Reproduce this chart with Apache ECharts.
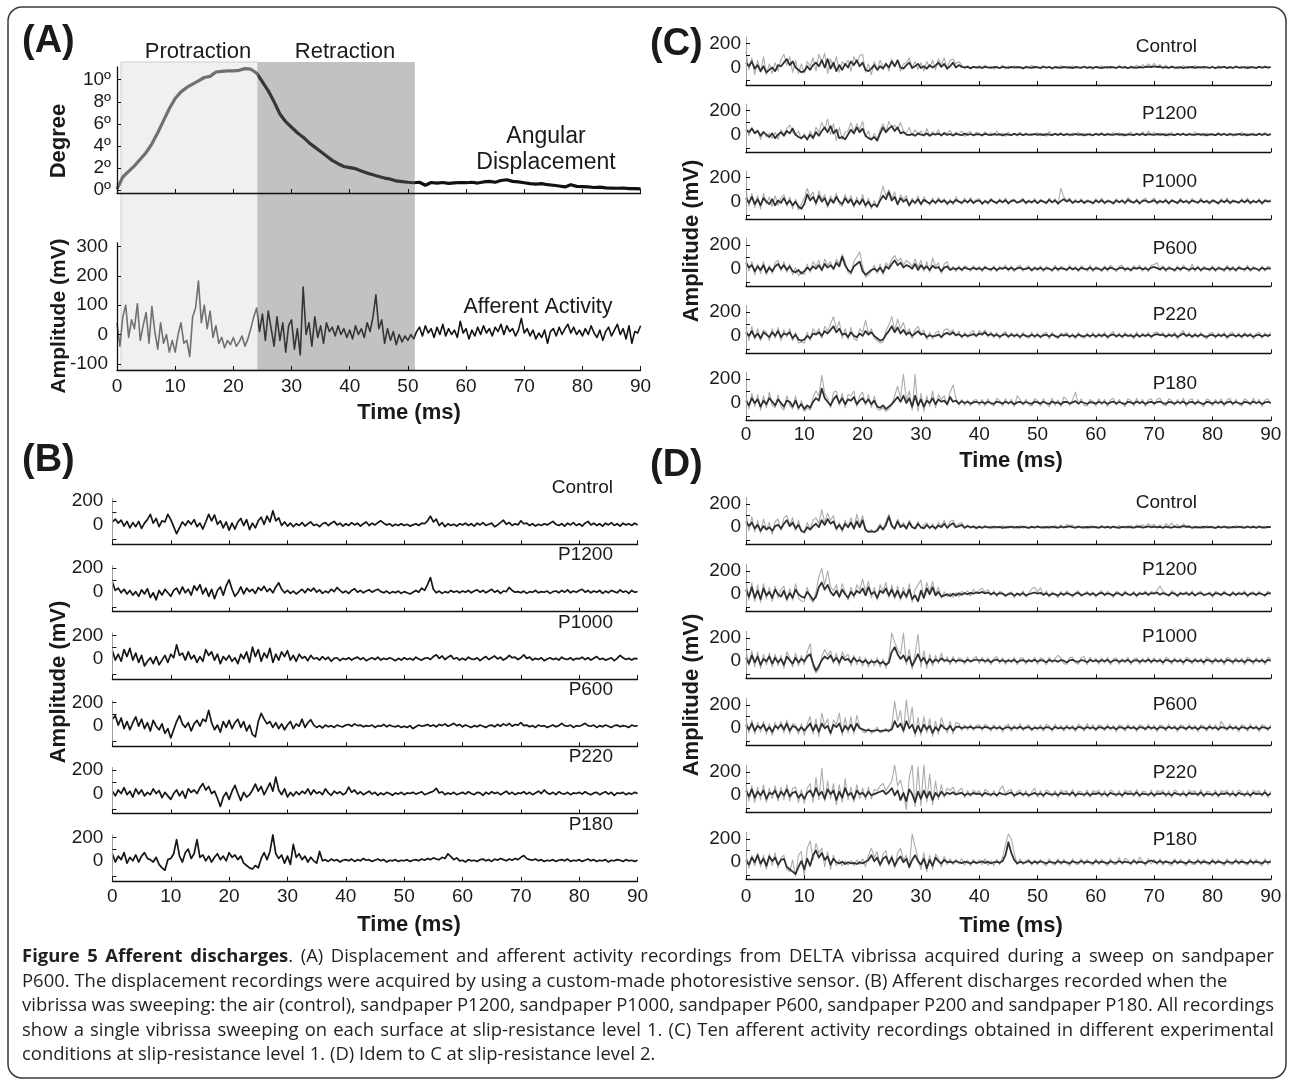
<!DOCTYPE html>
<html><head><meta charset="utf-8">
<script src="https://cdn.jsdelivr.net/npm/echarts@6/dist/echarts.min.js"></script>
<style>html,body{margin:0;padding:0;background:#fff}#c{width:1293px;height:1089px}</style>
</head><body><div id="c"></div>
<script>
// ---------------- DATA ----------------
const SAMPLE_STEP_MS = 0.5;   // amplitude samples every 0.5 ms (0..90 ms)
const DEGREE_STEP_MS = 1;     // displacement samples every 1 ms
const phaseBounds = [0.7, 24.2, 51.2]; // protraction start, retraction start, retraction end (ms)
const phaseNames = ['Protraction', 'Retraction'];
const degreeTicks = [0, 2, 4, 6, 8, 10];
const ampTicksA = [-100, 0, 100, 200, 300];
const ampTicksSmall = [0, 200];
const conditions = ['Control', 'P1200', 'P1000', 'P600', 'P220', 'P180'];

// (A) angular displacement (degrees)
const degA = [0.1,1.2,1.7,2.2,2.8,3.4,4.2,5.2,6.3,7.4,
8.3,8.9,9.3,9.6,9.9,10.2,10.3,10.7,10.75,10.8,
10.8,10.85,11.0,10.95,10.6,9.8,9.0,8.0,6.9,6.2,
5.7,5.2,4.8,4.3,3.9,3.5,3.1,2.7,2.4,2.15,
2.05,1.95,1.75,1.55,1.4,1.25,1.1,1.0,0.85,0.78,
0.72,0.68,0.72,0.45,0.7,0.65,0.7,0.62,0.66,0.7,
0.68,0.72,0.65,0.75,0.8,0.72,0.88,0.95,0.8,0.75,
0.68,0.6,0.55,0.6,0.5,0.45,0.38,0.3,0.5,0.35,
0.32,0.3,0.25,0.28,0.22,0.2,0.18,0.2,0.15,0.14,
0.12];
// (A) afferent activity (mV)
const ampA = [40,-40,60,100,-10,50,20,105,-20,30,75,-30,95,10,-50,40,-30,0,-60,-20,
-60,0,40,-30,-20,-75,60,90,182,40,100,20,80,-10,30,-30,-10,-45,-20,-35,
-10,-40,-25,-5,-40,-15,20,60,90,10,70,-20,80,20,-40,60,-20,40,-60,30,
50,-50,20,-70,162,0,40,-40,60,-10,30,-30,40,10,25,-5,30,0,20,-10,
15,-15,30,0,20,-10,40,10,60,135,20,50,-30,20,-20,10,-35,0,-25,-5,
-20,0,-15,10,25,-5,30,5,20,-10,25,0,35,-5,20,0,15,-10,45,5,
20,-15,15,-5,25,0,30,5,20,-5,25,10,35,0,30,10,20,-5,15,55,
5,20,-5,15,-15,5,-10,15,-30,10,20,-5,25,0,20,35,5,25,0,15,
-5,20,0,30,5,-10,15,-20,10,25,-5,15,35,0,20,-15,30,-30,10,5,30];

// (B) single recordings (mV)
const bControl = [20,45,10,35,-15,25,-30,15,-20,25,-35,10,40,85,10,50,-20,30,20,85,
40,-20,-80,-30,20,-10,30,0,40,-20,10,-40,20,85,30,80,0,30,-30,20,
-50,10,-40,20,50,-10,40,-45,10,-30,30,60,0,70,20,115,30,55,-10,20,
-15,10,-20,5,-10,15,-15,5,20,-10,0,-20,5,15,-10,10,25,-5,10,-15,
5,-10,15,-5,10,-15,5,20,-10,10,-5,15,30,10,-5,5,-15,0,-10,5,
-10,0,-15,-5,5,-10,10,5,30,70,20,45,-10,15,-20,5,-10,0,-15,5,
-5,10,-10,5,-15,10,-5,15,-10,0,10,-20,-5,15,35,0,15,-10,5,-5,
30,5,10,-10,5,-15,0,-10,5,-5,10,25,0,-10,5,-15,10,-5,15,-10,
5,-15,10,25,-5,10,-10,5,-15,10,-5,15,-10,5,-15,10,-5,5,-10,10,-5];
const bP1200 = [80,10,30,-10,20,-20,10,-30,0,-40,15,-20,25,-50,-10,-70,10,-30,20,-10,
-40,10,30,-20,40,-10,20,-30,50,10,60,-20,30,-40,20,-60,10,40,-30,50,
100,20,-40,-10,40,-20,30,0,20,-15,35,10,45,0,25,-10,40,75,20,-10,
10,-15,5,-20,0,20,-10,25,5,30,-5,15,-15,5,-10,20,0,35,10,-10,
5,-15,10,25,-5,10,-10,5,15,-5,10,20,0,-10,5,-15,0,-10,5,-15,
0,-10,-20,-5,10,-5,30,10,60,120,20,-10,5,-15,0,-10,10,-5,5,-10,
5,-5,10,-10,5,15,-5,10,-10,5,20,-5,10,-15,5,0,35,10,-5,0,
-10,5,-15,0,-5,10,-10,0,-5,5,-15,0,5,-10,10,-5,15,-10,5,-5,
10,20,-5,10,-10,5,-5,10,-15,5,-10,10,0,-10,15,-5,5,-15,10,-5,0];
const bP1000 = [70,-10,40,-20,80,20,90,-10,50,-30,30,-60,-20,10,-40,20,-50,-10,30,-30,
40,10,120,30,50,-10,60,0,30,-30,20,-20,80,30,60,-10,40,-40,20,-10,
30,-20,10,-40,40,0,60,-30,100,20,80,-20,50,10,90,-30,40,-10,60,20,
70,-10,30,-20,40,5,20,-15,30,0,10,-10,20,-5,15,-20,5,10,-15,5,
-5,10,-10,5,15,-5,10,-15,0,10,-5,15,-10,5,-5,10,0,-15,5,-10,
10,-5,5,-10,15,0,-10,5,10,-5,20,35,5,25,-5,15,30,0,10,-10,
5,-10,15,0,-5,10,-15,5,20,-5,10,25,0,15,-10,5,30,10,15,-5,
10,35,5,15,-10,5,-5,10,-15,0,10,-5,5,-10,15,0,-5,10,-10,5,
0,15,-5,10,-10,5,20,-5,5,-10,0,10,-15,5,30,10,-5,5,-10,5,0];
const bP600 = [60,90,10,70,-20,40,-30,30,80,0,60,-20,30,-40,50,0,-30,20,-60,-20,
-100,-30,40,90,20,-10,30,-40,20,50,0,60,40,135,30,-30,10,-50,40,-10,
50,-20,30,60,-10,40,-40,10,-70,-90,40,110,60,20,40,-10,30,-20,20,-30,
10,40,-20,20,0,60,-10,30,55,10,-10,5,-15,10,-5,5,-10,10,0,-5,
10,15,0,20,5,10,-5,5,0,10,-10,5,0,15,-5,10,0,-5,5,-10,
0,-10,5,-20,-5,10,0,5,15,0,10,-5,15,5,20,0,10,25,5,15,
-5,10,0,-10,5,-5,10,0,-10,5,10,-5,15,0,20,5,25,0,15,10,
30,5,10,-5,5,-10,10,0,5,-10,0,10,-5,5,25,5,0,10,-10,5,
0,10,25,5,0,10,-10,5,-5,10,0,-10,5,10,-5,5,0,-10,10,0,5];
const bP220 = [20,-20,30,0,50,-10,20,-30,40,-5,30,-20,10,-10,40,0,25,-35,10,-20,
-50,0,30,-20,20,-40,40,10,30,0,50,85,30,60,0,20,-40,-110,-30,10,
-50,20,70,0,-60,10,-30,-10,30,80,20,60,-10,40,90,20,140,30,-10,40,
-30,10,-20,15,-10,20,0,40,-10,30,0,15,-10,40,5,-15,20,0,15,-10,
5,55,10,30,-5,15,-10,5,20,-5,10,-15,5,-10,10,0,-15,5,-5,10,
-10,5,0,10,-5,5,15,-10,0,10,20,45,5,15,-10,5,-5,10,-10,0,
10,-5,15,0,-10,10,5,-15,10,-5,15,0,10,-10,5,20,-5,10,-10,5,
0,15,-5,10,-10,5,20,0,30,5,-5,10,-10,15,0,-5,10,-10,5,0,
10,-5,15,0,-10,5,10,-10,5,15,-5,10,-15,5,0,10,-10,5,-5,10,0];
const bP180 = [60,-10,40,10,70,-20,30,0,50,-10,40,70,20,10,-10,30,-30,-60,-80,10,
20,60,180,40,-10,70,100,20,60,180,30,50,0,40,-10,30,60,10,40,0,
70,30,50,10,40,-20,-40,-60,-70,-40,-60,20,70,10,80,220,60,20,50,-20,
40,-30,140,30,60,10,40,-10,30,0,-20,80,0,10,-5,15,0,10,-10,5,
10,0,15,-5,10,0,20,5,10,-5,5,15,0,10,-10,5,0,10,-5,5,
0,10,-5,5,10,0,15,5,20,10,25,15,10,30,20,60,35,10,25,0,
5,-10,10,0,5,-5,10,15,0,10,-5,15,5,20,10,0,15,5,20,10,
30,45,20,10,5,15,0,10,-5,5,0,10,-5,5,10,0,15,-5,5,0,
10,-5,5,15,0,10,-5,5,0,10,-10,5,0,10,5,-5,10,0,5,-5,5];

// (C) level 1: dense core (dark) and spread of the ten recordings (light), mV
const cDarkControl = [40,10,50,-10,20,-30,10,-40,-20,0,-30,20,10,40,70,20,50,0,-20,-40,
-30,10,-20,20,40,10,60,0,70,-10,40,-30,20,-20,30,0,50,20,60,10,
40,-20,-30,-10,20,-20,10,-10,30,0,50,10,60,0,-10,20,40,-5,10,30,
-5,10,-10,20,0,15,40,5,30,-10,10,40,0,20,5,0,5,-5,5,0,
3,-3,5,0,-4,4,2,-5,6,0,-3,5,-2,4,0,-5,3,1,-4,5,
0,-3,6,-2,4,-5,2,0,-4,5,-1,3,-5,4,0,-2,6,-3,2,-4,
4,0,-5,3,-2,5,0,-4,6,-1,3,-5,2,0,-3,5,-2,4,8,2,
10,4,6,-2,3,-4,5,0,-3,4,-5,2,0,5,-4,3,-2,6,0,-3,
4,-5,2,0,5,-3,3,-4,6,0,-2,4,-5,3,0,-3,5,-2,4,0,3];
const cLightControl = [130,-20,80,-60,60,-40,90,-60,30,-50,40,-30,70,110,20,90,-40,60,-50,30,
-50,50,10,80,-30,110,40,120,-50,70,0,90,-40,50,20,60,-30,90,40,100,
110,-40,30,-60,50,-20,60,0,40,-30,70,10,60,-30,30,40,80,0,50,-20,
40,-30,50,0,60,-20,70,20,80,-10,60,70,30,50,20,-10,15,-15,10,-10,
15,-10,20,-5,10,-15,12,-8,18,-12,10,-5,15,-10,8,-15,12,-5,20,-8,
10,-12,15,-5,8,-15,12,-10,18,-5,10,-12,15,-8,5,-10,12,-5,10,-15,
8,-10,15,-5,12,-12,10,-8,18,-5,12,-10,15,-5,20,-8,25,5,30,10,
35,5,25,-10,20,-5,15,-12,10,-8,18,-5,12,-10,15,-5,10,-12,8,-5,
12,-10,15,-5,10,-12,8,-8,15,-5,10,-10,12,-5,8,-12,10,-5,15,-8,5];
const cDarkP1200 = [40,20,50,10,30,-10,20,0,-20,10,-30,0,20,-10,30,10,50,0,-20,-30,
-10,-40,0,-30,20,-10,30,60,20,70,10,40,-30,-20,-40,0,40,10,60,20,
50,-10,-30,-40,-20,-50,10,60,20,50,70,30,60,10,20,0,-5,5,-10,10,
0,-5,10,-10,5,0,8,-5,10,-3,5,-8,6,0,-5,8,-3,5,-6,4,
2,-5,6,0,-4,5,-2,4,-6,3,0,-4,6,-2,5,-5,3,0,-3,5,
-2,4,-5,3,0,-4,6,-2,5,-5,3,0,-3,5,-2,4,-6,3,0,-4,
6,-2,5,-5,3,0,-3,5,-2,4,-6,3,0,-4,6,-2,5,-5,3,0,
-3,5,-2,4,-6,3,0,-4,6,-2,5,-5,3,0,-3,5,-2,4,-6,3,
0,-4,6,-2,5,-5,3,0,-3,5,-2,4,-6,3,0,-4,6,-2,5,-5,3];
const cLightP1200 = [70,-10,60,20,40,-40,30,-20,10,-30,20,-40,40,0,50,80,20,-10,30,-40,
10,-50,30,-20,60,20,100,40,130,0,90,-50,60,-40,20,30,100,20,90,40,
110,-20,30,-50,10,-40,40,90,20,110,60,80,40,100,30,10,60,-10,40,0,
30,-15,50,-10,25,0,40,-15,20,10,35,-10,20,5,30,-15,15,25,-10,20,
10,-15,25,-5,15,-10,30,-8,12,-15,20,-5,10,-12,22,-8,15,-10,12,-5,
18,-10,10,-15,25,-5,12,-10,18,-8,10,-12,15,-5,20,-10,12,-8,15,-12,
10,-5,18,-10,12,-8,20,-5,15,-12,10,-8,22,-5,12,-10,25,-5,30,0,
20,-10,15,-5,12,-12,18,-8,10,-5,15,-10,12,-8,20,-5,10,-12,15,-8,
12,-5,18,-10,10,-8,15,-12,12,-5,20,-10,10,-8,15,-5,12,-10,18,-5,10];
const cDarkP1000 = [30,-10,40,-20,20,-30,30,0,-20,20,-30,10,-10,30,-20,10,-30,0,-40,-60,
-20,60,10,40,-10,50,0,30,-30,20,-10,40,0,-20,30,-10,20,-30,10,-20,
20,-30,0,-40,-20,-40,10,50,20,80,10,40,-20,30,0,20,-30,10,-10,20,
-20,15,0,-15,10,-10,15,-5,10,-15,5,-10,15,0,-10,10,-5,15,-10,5,
10,-15,5,-10,15,0,-10,10,-5,12,-12,5,10,-8,0,15,-10,5,-5,10,
-12,8,0,-10,15,-5,10,-15,5,20,0,15,-10,5,-5,10,-10,5,0,-12,
10,-5,12,-10,5,0,-12,10,-5,8,-10,15,0,-8,10,-12,5,10,-5,0,
12,-10,5,-5,10,-12,8,0,-10,12,-5,5,-10,10,0,-8,12,-5,5,-10,
8,0,-12,10,-5,12,-10,5,0,-8,10,-5,12,-10,5,-5,10,-12,8,0,5];
const cLightP1000 = [90,-40,70,-50,50,-60,70,-20,40,-40,50,-30,30,60,-40,40,-60,20,-70,-20,
30,110,40,80,-30,90,20,60,-50,50,0,70,-20,-40,60,0,50,-50,40,-30,
60,-50,30,-60,10,-50,40,130,50,100,30,80,-30,60,20,50,-40,30,-20,50,
-30,40,10,-30,30,-20,35,0,25,-30,20,-25,40,5,-20,30,-15,35,-20,20,
25,-25,15,-20,30,0,-20,25,-10,30,-25,15,20,-15,10,30,-20,15,-15,25,
-20,20,5,-20,30,-10,25,-25,110,40,10,30,-15,20,-10,25,-20,15,5,-20,
25,-10,30,-20,15,5,-25,25,-10,20,-20,35,10,-15,25,-25,15,30,-10,10,
30,-20,15,-10,25,-25,20,5,-20,30,-10,15,-20,25,5,-15,30,-10,15,-20,
20,5,-25,25,-10,30,-20,15,5,-15,25,-10,30,-20,15,-10,25,-25,20,5,15];
const cDarkP600 = [50,10,30,-20,20,-10,30,-30,10,-20,20,40,0,30,-10,20,-20,-30,-10,-40,
-20,10,-10,20,0,30,-10,40,10,30,0,50,20,100,30,-10,-30,20,40,60,
-20,-50,-30,-10,0,-20,10,-30,20,0,40,70,30,50,10,30,20,0,40,-10,
30,0,20,-10,25,5,15,-20,10,20,-10,5,-5,8,-8,10,0,-5,8,-3,
5,-8,10,0,-5,8,-10,5,0,10,-5,8,-8,3,10,-5,0,8,-10,5,
-3,8,-8,5,0,-10,10,-5,5,0,-8,10,-3,5,-10,8,0,-5,10,-8,
5,0,-10,8,-5,10,0,-8,5,10,-5,3,-10,8,0,10,-5,5,-8,10,
15,5,-5,10,-8,5,0,-10,8,-5,10,0,-8,5,-5,10,-10,5,0,-5,
8,-10,5,0,-8,10,-5,5,-10,8,0,-5,10,-8,5,0,-10,8,-5,5,0];
const cLightP600 = [90,-20,60,-50,40,-40,60,-50,30,-40,50,70,-20,60,-30,40,-50,10,-60,-20,
-50,40,-30,60,20,70,-20,80,30,60,-10,80,40,120,60,-30,-50,60,100,140,
20,-70,-50,-20,30,-40,40,-50,50,20,80,110,60,90,30,70,50,20,80,10,
70,-20,60,-30,90,20,50,-40,40,60,-10,20,-25,25,-20,25,10,-20,25,-15,
20,-25,25,0,-20,25,-25,20,5,30,-20,25,-25,15,30,-20,10,25,-25,20,
-15,25,-25,20,5,-25,30,-20,20,10,-20,30,-15,20,-25,25,5,-20,30,-25,
20,5,-25,25,-20,30,10,-25,20,30,-20,15,-25,25,5,30,-20,20,-25,30,
35,50,-15,25,-25,20,5,-25,25,-20,30,5,-25,40,-20,25,-25,20,5,-20,
25,-25,20,5,-25,30,-20,20,-25,25,5,-20,30,-25,20,5,-25,25,-20,20,10];
const cDarkP220 = [30,0,40,-10,20,-20,30,10,-10,30,0,40,-10,20,10,30,-20,10,-30,-40,
-30,0,-20,20,10,30,0,40,20,50,80,30,60,10,20,-10,30,0,-10,20,
0,40,10,30,0,-20,-40,-30,10,40,80,30,70,20,50,10,30,0,20,40,
10,20,-10,5,-5,0,10,-10,15,25,10,30,5,15,-5,10,0,5,15,0,
20,10,30,5,15,0,10,-5,5,15,-5,10,0,8,-8,12,0,-5,10,-3,
8,-8,5,10,-5,12,0,-10,8,3,10,-5,5,-8,12,0,-5,8,-3,10,
-5,8,0,10,-8,5,12,-3,8,-5,10,0,5,-8,12,-5,8,0,10,-5,
8,15,5,10,-5,8,0,12,-8,5,20,0,10,-5,8,-3,12,0,-8,5,
10,-5,8,0,12,-8,5,10,-3,8,-5,12,0,8,-8,5,10,-5,8,0,10];
const cLightP220 = [70,-40,80,-30,60,-40,50,30,-40,60,-20,70,-40,50,-10,60,-40,30,-60,-50,
-60,30,-40,60,20,60,-20,80,40,100,160,60,120,-20,60,-30,70,-20,-40,60,
30,130,20,60,-20,-40,-60,-50,40,90,160,40,140,60,110,20,60,-20,50,80,
20,50,-30,30,-25,25,40,-20,50,60,30,50,0,40,-20,30,-15,25,45,-10,
45,20,50,-10,35,-15,30,-25,20,35,-20,30,-15,25,-25,30,-10,-20,30,-20,
25,-20,20,30,-25,30,-10,-25,25,10,30,-20,20,-25,30,-10,-20,25,-15,30,
-20,25,-15,30,-25,20,35,-15,25,-20,30,-10,20,-25,35,-15,25,-10,30,-20,
25,35,10,30,-20,25,-10,30,-25,20,45,-10,30,-20,25,-15,30,-10,-25,20,
30,-20,25,-10,30,-25,20,30,-15,25,-20,30,-10,25,-25,20,30,-20,25,-10,30];
const cDarkP180 = [20,-20,40,0,30,-30,20,-10,40,10,-20,30,0,-30,20,10,-30,20,-40,-10,
-50,-20,-40,10,40,20,120,40,10,-20,30,60,0,40,-10,30,20,50,-10,20,
40,0,30,-10,20,-30,-40,-20,-50,-30,-10,20,50,10,60,0,40,-30,60,-20,
30,-30,20,0,40,-10,30,10,20,-10,50,10,20,-5,15,0,10,-5,5,10,
0,8,-5,10,0,-8,12,5,-5,10,0,8,-10,5,10,-5,8,0,-8,12,
5,-5,10,0,-8,12,0,5,-10,8,10,-5,5,15,-5,10,0,-8,8,3,
-5,10,0,8,-8,5,12,-5,8,0,-10,10,5,-5,12,0,8,-8,5,10,
-3,8,12,0,-8,10,5,-5,8,0,12,-8,5,10,-5,8,0,-10,10,5,
-5,8,0,10,-8,5,12,-5,8,0,-8,10,5,-5,12,0,8,-8,5,10,0];
const cLightP180 = [60,-50,80,-30,70,-60,60,-40,90,-20,-40,70,-30,-60,60,-20,-50,60,-60,20,
-70,-40,-60,50,100,60,230,80,40,-40,90,100,-20,80,-40,70,60,100,-30,60,
90,-20,70,-40,60,-50,-60,-40,-70,-50,-20,60,140,40,240,20,100,-60,240,-70,
80,-70,60,-30,100,-40,70,30,60,-20,90,150,40,-20,30,-20,25,-25,20,30,
-20,30,-25,35,-10,-25,40,20,-25,35,-15,30,-30,60,30,-20,30,-15,-25,35,
20,-25,35,-10,-30,40,-20,25,-30,50,30,-20,25,90,-15,35,-20,-25,30,15,
-25,35,-15,30,-30,25,40,-20,30,-10,-30,35,20,-25,40,-10,30,-30,25,35,
-20,30,40,-15,-25,35,20,-20,30,-10,40,-30,25,35,-20,30,-10,-30,35,20,
-25,30,-10,35,-30,25,40,-20,30,-10,-25,35,20,-20,40,-10,30,-30,25,35,-10];

// (D) level 2: dense core (dark) and spread (light), mV
const dDarkControl = [50,10,40,-10,20,-30,10,-20,0,-30,10,20,-10,30,60,10,40,-10,20,-30,
-40,0,-20,10,30,0,60,20,70,30,50,-10,20,-20,30,0,40,-10,50,0,
60,-20,-40,-35,-40,-30,10,-20,20,90,10,-10,50,0,20,-10,40,0,-10,30,
0,-10,20,-5,10,-10,15,0,30,-5,20,35,0,10,20,-5,10,0,5,-5,
3,-4,5,0,-3,6,-2,4,-5,2,0,5,-4,3,-2,6,0,-5,4,-2,
5,0,-4,3,-3,6,0,-4,5,-2,4,8,2,-3,5,0,-4,3,-2,5,
0,-4,6,-2,3,-3,5,0,-5,4,-2,6,0,-4,3,5,-3,2,8,0,
6,-2,4,-4,5,0,-3,6,-2,4,10,3,5,-4,2,0,-3,5,-2,4,
0,-5,3,-2,6,0,-4,4,-2,5,0,-3,6,-2,3,-4,5,0,-3,4,2];
const dLightControl = [120,-30,90,-40,60,-50,70,-20,40,-60,50,70,-30,80,100,20,80,-30,60,-40,
-50,40,-20,60,80,30,150,40,120,60,100,-30,40,-40,60,0,80,-20,110,20,
100,-30,-40,-20,-45,-10,30,-20,50,110,30,-20,70,10,40,-20,60,10,-15,50,
-10,20,40,-15,30,-20,40,10,60,-10,50,60,10,30,40,-10,20,-10,15,-15,
12,-10,15,-5,10,-12,8,-8,15,-10,12,-5,10,-12,15,-8,10,-5,12,-10,
15,-5,10,-12,12,-8,15,-10,20,-5,25,10,18,-10,12,-5,10,-12,15,-8,
10,-10,15,-5,12,-12,10,-8,15,-5,12,-10,15,-5,18,10,22,5,30,10,
25,0,20,-10,30,10,35,5,25,-10,30,10,15,-10,12,-5,10,-12,15,-8,
12,-10,15,-5,10,-12,8,-8,15,-5,12,-10,10,-5,15,-8,12,-10,10,-5,8];
const dDarkP1200 = [40,-20,60,-30,30,-40,50,-10,20,-30,40,0,-20,30,-40,10,-30,40,0,-20,
-30,20,-10,-50,-20,60,100,40,80,20,-10,30,-20,40,0,-30,20,-10,30,10,
50,-10,60,0,20,-30,30,10,50,-10,40,-20,30,-30,20,-20,40,-40,-10,-60,
30,-30,50,0,60,-10,20,-20,-10,0,-15,5,-10,8,-5,10,0,12,5,15,
10,20,8,15,0,12,-5,10,5,-10,0,8,-12,5,-5,10,-10,0,8,15,
5,12,-5,8,-10,5,0,-12,8,-5,10,0,-10,5,12,-8,0,10,-5,8,
-10,5,12,-5,8,0,-10,10,5,-8,12,0,-5,10,-10,8,0,12,-5,10,
5,15,-5,10,0,-8,12,5,-10,8,0,10,-5,12,-8,5,10,-5,0,8,
-10,10,5,-5,12,0,-8,10,-5,8,0,12,-10,5,8,-5,10,0,-8,10,5];
const dLightP1200 = [110,-50,100,-60,80,-70,90,-40,60,-60,70,-30,40,70,-60,50,-50,90,-30,-60,
-60,60,-40,-70,20,150,220,80,200,60,30,80,-30,90,20,-50,60,-30,80,40,
130,20,110,-30,60,-50,80,20,100,-30,80,-40,70,-50,60,-40,90,-70,40,80,
120,-40,100,20,110,0,60,-30,20,-20,10,-25,15,-20,25,5,30,-15,40,10,
35,50,20,40,-10,30,-20,25,15,-25,10,20,-30,15,-20,30,-25,10,45,60,
20,55,-10,30,-25,20,5,-30,25,-15,30,5,-25,15,30,-20,5,25,-15,20,
-25,15,30,-15,25,5,-30,25,10,-20,30,5,-15,25,-25,20,5,30,-15,25,
10,35,70,25,10,-20,30,15,-25,20,5,25,-15,30,-20,15,25,-15,5,20,
-25,25,15,-15,30,0,-20,25,-15,20,5,30,-25,15,20,-15,25,5,-20,25,10];
const dDarkP1000 = [30,-20,50,-10,40,-30,20,0,40,-20,30,-10,20,-30,40,10,-20,30,-10,20,
0,40,60,-20,-80,-40,10,40,20,50,0,30,-10,40,10,20,-10,30,0,10,
-10,10,-20,0,-10,5,-20,-5,-30,-10,80,120,60,20,50,0,40,-40,10,60,
0,30,-20,20,-10,15,0,25,5,10,-5,15,0,10,5,-5,12,0,8,15,
5,12,0,10,-8,8,15,0,10,-5,8,0,12,-8,5,10,-5,8,0,12,
-5,10,5,-8,12,0,8,-5,10,5,-10,8,12,0,-5,10,5,-8,12,0,
8,-5,10,0,12,-8,5,10,-5,8,0,12,-8,5,10,-5,8,0,12,-5,
10,0,8,-8,12,5,-5,10,0,8,-8,12,5,-5,10,0,8,-8,12,5,
-5,10,0,8,-8,12,5,-5,10,0,8,-8,12,5,-5,10,0,8,-8,12,5];
const dLightP1000 = [100,-40,90,-50,80,-60,60,-30,70,-50,60,-40,50,-60,80,30,-50,70,-40,50,
-30,80,150,-50,-100,-70,40,100,50,90,-20,70,-40,80,30,60,-40,50,-30,40,
-40,30,-50,20,-40,30,-50,20,-60,20,240,160,100,60,240,-30,100,-70,60,230,
-50,90,-60,60,-40,50,-20,70,-10,40,-30,40,-20,30,20,-25,35,-15,25,40,
-20,35,-15,30,-30,25,40,-20,30,-25,20,-15,35,-30,25,30,-25,20,-10,35,
-25,30,20,-30,35,-15,25,50,30,-20,-25,30,35,-15,-25,30,40,-30,35,-10,
25,-25,30,-15,35,-30,20,30,-25,25,-15,35,-30,20,30,-25,25,-15,35,-20,
30,-15,25,-30,35,20,-25,30,-15,25,-30,35,20,-25,30,-15,25,-30,35,20,
-25,30,-15,25,-30,35,20,-25,30,-15,25,-30,35,20,-25,30,-15,25,-30,35,20];
const dDarkP600 = [30,-10,40,-20,20,0,30,-20,10,-30,20,0,30,-10,40,-20,20,10,-20,10,
-20,10,40,-20,30,-30,40,0,20,-40,30,10,40,-30,20,-10,30,-20,40,0,
-10,-20,-15,-25,-20,-15,-25,-20,-15,-20,-10,60,10,40,-20,60,0,30,-40,20,
-30,30,-10,20,-40,10,-20,30,0,-10,20,-20,10,15,0,10,5,12,0,8,
10,0,12,5,-5,10,0,8,-8,5,10,-5,8,0,12,-5,5,10,-8,5,
0,8,-5,10,5,-8,12,0,5,-5,10,0,8,-8,12,5,-5,10,0,8,
-8,10,5,-5,12,0,8,-8,10,5,-5,12,0,8,-8,10,5,-5,12,0,
8,-8,10,5,-5,12,0,8,-8,10,5,-5,12,0,8,-8,10,5,-5,12,
0,8,-8,10,5,-5,12,0,8,-8,10,5,-5,12,0,8,-8,10,5,-5,10];
const dLightP600 = [80,-40,70,-50,50,-30,60,-50,40,-60,50,-20,60,-40,70,-50,40,30,-50,40,
-60,40,100,-50,80,-70,130,20,80,-60,70,30,130,-60,90,-40,100,-50,110,20,
-30,-40,0,-45,-30,10,-40,-30,0,-35,20,230,60,150,-40,240,30,180,-70,90,
-60,100,-40,80,-70,60,-50,90,20,-40,60,-50,50,40,-20,30,-15,35,-20,25,
30,-20,35,15,-25,30,-15,25,-30,20,35,-25,25,-15,40,-20,15,30,-25,20,
-15,30,-25,35,20,-30,35,-10,25,-25,30,-15,25,-30,35,15,-25,40,-15,30,
-25,30,20,-20,35,-15,25,-30,30,20,-25,35,-10,25,-30,30,20,-20,35,-15,
25,-30,30,20,-25,35,-10,25,-30,30,20,-20,35,-15,25,-30,30,20,-25,35,
-15,30,-25,60,20,-20,35,-15,25,-30,30,20,-25,35,-10,25,-30,30,20,-20,30];
const dDarkP220 = [40,-10,50,-20,30,0,40,-30,20,10,40,-20,30,0,50,-10,20,30,-20,10,
-30,20,40,-10,60,0,30,-30,50,10,40,-40,30,-20,60,0,20,-30,40,10,
20,-10,30,0,10,20,30,40,10,30,60,0,40,-40,20,-50,50,10,-60,30,
-30,40,-20,30,-40,20,-10,30,0,20,10,25,5,15,20,0,15,5,20,10,
15,0,20,10,5,15,0,20,10,5,15,25,0,10,20,5,15,0,10,20,
5,15,0,20,10,5,15,0,20,10,15,5,25,0,15,10,5,20,0,15,
10,20,5,15,0,20,10,5,15,0,20,10,15,5,25,0,15,10,5,20,
0,15,10,20,5,15,0,20,10,5,15,0,20,10,15,5,25,0,15,10,
5,20,0,15,10,20,5,15,0,20,10,5,15,0,20,10,15,5,25,0,15];
const dLightP220 = [90,-50,80,-60,70,-40,90,-60,60,-30,80,-50,70,-40,90,-50,60,70,-60,50,
-70,60,100,-60,150,-40,230,-50,120,-30,100,-80,90,-60,140,-40,70,-60,90,-30,
60,-40,70,-30,50,40,80,100,40,80,120,260,80,130,20,-120,150,260,-100,240,
-90,260,-60,180,-80,120,-40,90,-20,60,40,70,10,40,60,-20,40,-10,45,20,
40,-20,50,30,-10,40,-15,45,80,10,40,50,-20,30,45,-10,40,-20,30,60,
-15,40,-20,45,30,-10,40,-20,45,25,40,-10,50,-20,35,30,-10,45,-20,40,
25,45,-15,40,-20,45,30,-10,40,-20,45,25,40,-10,50,-20,35,30,-10,45,
-20,40,25,45,-15,40,-20,45,30,-10,40,-20,45,25,40,-10,50,-20,35,30,
-10,45,-20,40,25,45,-15,40,-20,45,30,-10,40,-20,45,25,40,-10,50,-20,35];
const dDarkP180 = [20,-20,40,0,60,-10,30,-30,50,10,40,-20,20,30,-40,-60,-80,-100,-40,10,
-60,30,-30,60,100,40,80,20,50,-20,30,0,-10,5,-15,0,-10,-5,-15,0,
-10,5,20,60,10,40,-20,30,50,-10,40,-30,20,50,0,30,-40,20,60,10,
-20,30,-50,20,-30,40,10,-10,20,0,5,-5,10,0,-8,5,0,-10,5,-5,
0,8,-5,5,-10,0,5,-5,10,60,170,80,20,-10,5,-5,0,10,-8,5,
-5,8,0,-10,5,0,-8,10,-5,5,0,-10,8,0,-5,10,-5,5,0,-8,
10,-5,5,0,-10,8,0,-5,10,-5,5,0,-8,10,-5,5,0,-10,8,15,
5,-5,10,-5,5,0,-8,10,-5,5,0,-10,8,0,-5,10,-5,5,0,-8,
10,-5,5,0,-10,8,0,-5,10,-5,5,0,-8,10,-5,5,0,-10,8,0,5];
const dLightP180 = [70,-50,60,-30,80,-40,60,-60,70,-30,80,-50,40,60,-60,-80,20,-120,60,90,
-120,120,180,20,160,80,120,-40,90,-60,60,-30,20,-30,10,-25,15,-30,20,-20,
30,-40,60,120,40,90,-40,70,100,-30,60,-50,80,120,20,60,-50,240,130,30,
-60,80,-80,60,-60,70,30,-40,50,-20,30,-20,25,-15,30,-25,20,-30,25,-15,
20,-20,30,-25,15,-30,25,-20,40,150,240,200,80,-20,30,-20,15,25,-25,20,
-20,25,-15,-30,30,-10,-25,30,-20,25,-10,-30,30,-15,-20,30,-20,25,-10,-25,
30,-20,25,-10,-30,30,-15,-20,40,-20,35,20,-25,30,-20,45,10,-30,30,-15,
25,-20,30,-25,20,-15,-30,30,-20,25,-10,-30,30,-15,-20,30,-20,25,-10,-25,
30,-20,25,-10,-30,30,-15,-20,30,-20,25,-10,-25,30,-20,25,-15,-30,30,-20,20];

const panelB = [bControl, bP1200, bP1000, bP600, bP220, bP180];
const panelCDark = [cDarkControl, cDarkP1200, cDarkP1000, cDarkP600, cDarkP220, cDarkP180];
const panelCLight = [cLightControl, cLightP1200, cLightP1000, cLightP600, cLightP220, cLightP180];
const panelDDark = [dDarkControl, dDarkP1200, dDarkP1000, dDarkP600, dDarkP220, dDarkP180];
const panelDLight = [dLightControl, dLightP1200, dLightP1000, dLightP600, dLightP220, dLightP180];

const captionSegments = [
  [['Figure 5 Afferent discharges', true], ['. (A) Displacement and afferent activity recordings from DELTA vibrissa acquired during a sweep on sandpaper', false]],
  [['P600. The displacement recordings were acquired by using a custom-made photoresistive sensor. (B) Afferent discharges recorded when the', false]],
  [['vibrissa was sweeping: the air (control), sandpaper P1200, sandpaper P1000, sandpaper P600, sandpaper P200 and sandpaper P180. All recordings', false]],
  [['show a single vibrissa sweeping on each surface at slip-resistance level 1. (C) Ten afferent activity recordings obtained in different experimental', false]],
  [['conditions at slip-resistance level 1. (D) Idem to C at slip-resistance level 2.', false]]
];

// ---------------- BUILD ----------------
const FONT = "'Liberation Sans', Arial, Helvetica, sans-serif";
const CAPFONT = "'Open Sans', 'Noto Sans', 'DejaVu Sans', sans-serif";
const INK = '#1a1a1a';
const grids = [], xAxis = [], yAxis = [], series = [], graphic = [];

function baseX(showLabel, margin) {
  return { type: 'value', min: 0, max: 90, interval: 10, z: 4,
    axisLine: { show: true, onZero: false, lineStyle: { color: '#111', width: 1.3 } },
    axisTick: { show: true, inside: true, length: 4, lineStyle: { color: '#111', width: 1 } },
    axisLabel: { show: showLabel, margin: margin, fontSize: 19, color: INK, fontFamily: FONT },
    splitLine: { show: false } };
}
function baseY(min, max, labelVals, tickVals, margin, fmt, lineColor, lineWidth) {
  return { type: 'value', min: min, max: max, z: 4,
    axisLine: { show: true, onZero: false, lineStyle: { color: lineColor || '#a0a0a0', width: lineWidth || 1 } },
    axisTick: { show: true, inside: true, length: 4, customValues: tickVals, lineStyle: { color: '#111', width: 1 } },
    axisLabel: { show: true, customValues: labelVals, margin: margin, fontSize: 19, color: INK, fontFamily: FONT,
      formatter: fmt || function (v) { return String(v); } },
    splitLine: { show: false } };
}
function addPlot(grid, xa, ya) {
  const i = grids.length;
  grids.push(grid);
  xa.gridIndex = i; ya.gridIndex = i;
  xAxis.push(xa); yAxis.push(ya);
  return i;
}
function addTrace(idx, vals, step, color, width, z) {
  const ls = { width: width, join: 'round' };
  if (color) ls.color = color;
  series.push({ type: 'line', xAxisIndex: idx, yAxisIndex: idx,
    data: vals.map(function (v, i) { return [i * step, v]; }),
    symbol: 'none', showSymbol: false, silent: true, animation: false, z: z || 3, lineStyle: ls });
  return series.length - 1;
}
function txt(x, y, s, size, opts) {
  const o = Object.assign({ weight: 'normal', align: 'center', rot: 0, family: FONT, fill: INK }, opts || {});
  graphic.push({ type: 'text', x: x, y: y, rotation: o.rot, silent: true, z: 10,
    style: { text: s, fill: o.fill, fontSize: size, fontWeight: o.weight, fontFamily: o.family,
      align: o.align, verticalAlign: 'middle' } });
}

// ---- Panel A ----
const A_LEFT = 117, A_W = 523.6;
const bgIdx = addPlot({ left: A_LEFT, top: 62, width: A_W, height: 308 },
  { type: 'value', min: 0, max: 90, show: false }, { type: 'value', min: 0, max: 1, show: false });
series.push({ type: 'line', xAxisIndex: bgIdx, yAxisIndex: bgIdx, data: [], symbol: 'none', silent: true, z: 0,
  markArea: { silent: true, data: [
    [{ xAxis: phaseBounds[0], itemStyle: { color: '#eff0ef', borderColor: '#cdcdcd', borderWidth: 1 } }, { xAxis: phaseBounds[1] }],
    [{ xAxis: phaseBounds[1], itemStyle: { color: '#c2c2c2', borderWidth: 0 } }, { xAxis: phaseBounds[2] }]
  ] } });

const aUp = addPlot({ left: A_LEFT, top: 67, width: A_W, height: 126 }, baseX(false, 7),
  baseY(-0.25, 11.15, degreeTicks, degreeTicks, 6, function (v) { return v + 'º'; }, '#111', 1.3));
const aLo = addPlot({ left: A_LEFT, top: 243, width: A_W, height: 127 }, baseX(true, 7.5),
  baseY(-121, 312, ampTicksA, ampTicksA, 9, null, '#111', 1.3));
const sDeg = addTrace(aUp, degA, DEGREE_STEP_MS, null, 3.2);
const sAmp = addTrace(aLo, ampA, SAMPLE_STEP_MS, null, 1.6);

// ---- Panel B ----
const B_AXIS_Y = [544.3, 611.6, 678.9, 746.2, 813.5, 880.8];
const B_LABEL_Y = [488, 555, 623, 690, 757, 825];
panelB.forEach(function (vals, i) {
  const h = 46.06;
  const idx = addPlot({ left: 112.4, top: B_AXIS_Y[i] - h, width: 525.2, height: h }, baseX(i === 5, 6.5),
    baseY(-170, 222, ampTicksSmall, [-130, 100, 200], 9));
  addTrace(idx, vals, SAMPLE_STEP_MS, '#161616', 1.7);
  txt(613, B_LABEL_Y[i], conditions[i], 19, { align: 'right' });
});

// ---- Panel C ----
const C_AXIS_Y = [85, 152.1, 219.2, 286.3, 353.4, 420.5];
const C_LABEL_Y = [46.7, 114, 181.7, 248.3, 315, 383.3];
panelCDark.forEach(function (vals, i) {
  const h = 48;
  const idx = addPlot({ left: 746, top: C_AXIS_Y[i] - h, width: 524.8, height: h }, baseX(i === 5, 5),
    baseY(-146, 254, ampTicksSmall, [-110, 100, 200], 5));
  addTrace(idx, panelCLight[i], SAMPLE_STEP_MS, '#acacac', 1.1, 2);
  addTrace(idx, vals, SAMPLE_STEP_MS, '#303030', 1.8, 3);
  txt(1197, C_LABEL_Y[i], conditions[i], 19, { align: 'right' });
});

// ---- Panel D ----
const D_AXIS_Y = [544.3, 611.3, 678.3, 745.3, 812.3, 879.3];
const D_LABEL_Y = [503, 570, 637, 705, 773, 840];
panelDDark.forEach(function (vals, i) {
  const h = 47;
  const idx = addPlot({ left: 746, top: D_AXIS_Y[i] - h, width: 524.8, height: h }, baseX(i === 5, 8),
    baseY(-145, 255, ampTicksSmall, [-110, 100, 200], 5));
  addTrace(idx, panelDLight[i], SAMPLE_STEP_MS, '#acacac', 1.1, 2);
  addTrace(idx, vals, SAMPLE_STEP_MS, '#303030', 1.8, 3);
  txt(1197, D_LABEL_Y[i], conditions[i], 19, { align: 'right' });
});

// ---- Texts ----
txt(22, 42, '(A)', 38, { weight: 'bold', align: 'left' });
txt(22, 461, '(B)', 38, { weight: 'bold', align: 'left' });
txt(650, 45, '(C)', 38, { weight: 'bold', align: 'left' });
txt(650, 466, '(D)', 38, { weight: 'bold', align: 'left' });
txt(198, 52, phaseNames[0], 22);
txt(345, 52, phaseNames[1], 22);
txt(546, 137, 'Angular', 23);
txt(546, 163, 'Displacement', 23);
txt(538, 307, 'Afferent Activity', 21.5);
txt(59, 141, 'Degree', 22, { weight: 'bold', rot: Math.PI / 2 });
txt(59, 316, 'Amplitude (mV)', 21, { weight: 'bold', rot: Math.PI / 2 });
txt(59, 682, 'Amplitude (mV)', 22, { weight: 'bold', rot: Math.PI / 2 });
txt(692, 241, 'Amplitude (mV)', 22, { weight: 'bold', rot: Math.PI / 2 });
txt(692, 695, 'Amplitude (mV)', 22, { weight: 'bold', rot: Math.PI / 2 });
txt(409, 413, 'Time (ms)', 22, { weight: 'bold' });
txt(409, 925, 'Time (ms)', 22, { weight: 'bold' });
txt(1011, 461, 'Time (ms)', 22, { weight: 'bold' });
txt(1011, 926, 'Time (ms)', 22, { weight: 'bold' });

// border
graphic.push({ type: 'rect', silent: true, z: 0, shape: { x: 8, y: 7, width: 1278, height: 1071, r: 14 },
  style: { fill: 'none', stroke: '#3a3a3a', lineWidth: 1.5 } });

// ---- Caption (word layout, justified like the source) ----
(function () {
  const ctx = document.createElement('canvas').getContext('2d');
  function tokenize(segs) {
    const toks = []; let cur = null;
    segs.forEach(function (seg) {
      seg[0].split(' ').forEach(function (p, i) {
        if (i > 0 || cur === null) { if (cur && cur.length) toks.push(cur); cur = []; }
        if (p) cur.push([p, seg[1]]);
      });
    });
    if (cur && cur.length) toks.push(cur);
    return toks;
  }
  function fontStr(b, s) { return (b ? 'bold ' : '') + s + 'px ' + CAPFONT; }
  function wWord(tok, s) { let w = 0; tok.forEach(function (p) { ctx.font = fontStr(p[1], s); w += ctx.measureText(p[0]).width; }); return w; }
  const lines = captionSegments.map(tokenize);
  const targets = [1252, 1206, 1252, 1252, 0];
  let s = 16;
  ctx.font = fontStr(false, s);
  const sp0 = ctx.measureText(' ').width;
  const nat = lines[1].reduce(function (a, t) { return a + wWord(t, s); }, 0) + sp0 * (lines[1].length - 1);
  s = Math.max(14, Math.min(19, s * targets[1] / nat));
  ctx.font = fontStr(false, s);
  const sp = ctx.measureText(' ').width;
  lines.forEach(function (toks, li) {
    const widths = toks.map(function (t) { return wWord(t, s); });
    const sum = widths.reduce(function (a, b) { return a + b; }, 0);
    let gap = sp;
    if (targets[li] && li !== 1) gap = Math.max(sp * 0.6, (targets[li] - sum) / (toks.length - 1));
    let x = 22; const y = 957 + 24.5 * li;
    toks.forEach(function (tok) {
      tok.forEach(function (p) {
        ctx.font = fontStr(p[1], s);
        graphic.push({ type: 'text', x: x, y: y, silent: true, z: 10,
          style: { text: p[0], fill: '#231f20', fontSize: s, fontWeight: p[1] ? 'bold' : 'normal', fontFamily: CAPFONT,
            align: 'left', verticalAlign: 'middle' } });
        x += ctx.measureText(p[0]).width;
      });
      x += gap;
    });
  });
})();

const chart = echarts.init(document.getElementById('c'), null, { renderer: 'canvas' });
chart.setOption({
  animation: false,
  backgroundColor: '#ffffff',
  grid: grids, xAxis: xAxis, yAxis: yAxis, series: series, graphic: graphic,
  visualMap: [{ type: 'piecewise', show: false, dimension: 0, seriesIndex: [sDeg, sAmp],
    pieces: [
      { lt: phaseBounds[1], color: '#707070' },
      { gte: phaseBounds[1], lt: phaseBounds[2], color: '#363636' },
      { gte: phaseBounds[2], color: '#111111' }
    ] }]
});
</script></body></html>
